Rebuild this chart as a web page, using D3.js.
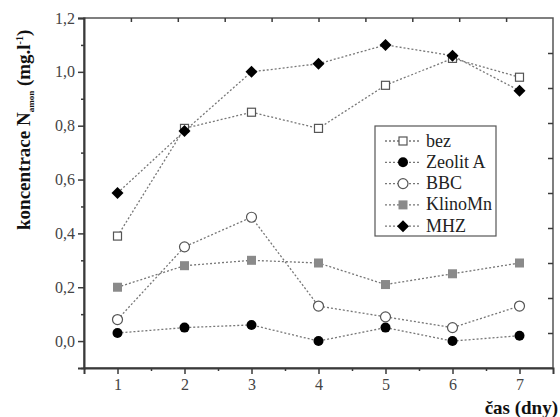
<!DOCTYPE html>
<html>
<head>
<meta charset="utf-8">
<script src="https://cdn.jsdelivr.net/npm/d3@7"></script>
<style>
    body { margin: 0; background: #fff; }
    svg text { font-family: "Liberation Serif", "Times New Roman", Times, "Noto Serif", "DejaVu Serif", serif; }
</style>
</head>
<body>
<div id="chart"></div>
<script>
// days on x axis
var days = [1, 2, 3, 4, 5, 6, 7];
var xTicks = [1, 2, 3, 4, 5, 6, 7];
var yTicks = [0, 0.2, 0.4, 0.6, 0.8, 1.0, 1.2];

// concentration N amon (mg/l) per series
var bez = [0.39, 0.79, 0.85, 0.79, 0.95, 1.05, 0.98];
var zeolitA = [0.03, 0.05, 0.06, 0.00, 0.05, 0.00, 0.02];
var bbc = [0.08, 0.35, 0.46, 0.13, 0.09, 0.05, 0.13];
var klinoMn = [0.20, 0.28, 0.30, 0.29, 0.21, 0.25, 0.29];
var mhz = [0.55, 0.78, 1.00, 1.03, 1.10, 1.06, 0.93];

var seriesNames = ["bez", "Zeolit A", "BBC", "KlinoMn", "MHZ"];
var seriesValues = [bez, zeolitA, bbc, klinoMn, mhz];

var width = 560, height = 417;
var plotLeft = 84, plotRight = 553, plotTop = 18, plotBottom = 368;
var serif = "'Liberation Serif', 'Times New Roman', Times, 'Noto Serif', 'DejaVu Serif', serif";

var svg = d3.select("#chart").append("svg")
    .attr("width", width)
    .attr("height", height);

var x = d3.scaleLinear().domain([0.5, 7.5]).range([plotLeft, plotRight]);
var y = d3.scaleLinear().domain([-0.1, 1.2]).range([plotBottom, plotTop]);
// top and right mirror axes just split the frame in 10 parts
var xTop = d3.scaleLinear().domain([0, 10]).range([plotLeft, plotRight]);
var yRight = d3.scaleLinear().domain([0, 10]).range([plotBottom, plotTop]);

var frameColor = "#3a3a3a";
var labelColor = "#444";

// frame
svg.append("rect")
    .attr("x", plotLeft).attr("y", plotTop)
    .attr("width", plotRight - plotLeft).attr("height", plotBottom - plotTop)
    .attr("fill", "none")
    .attr("stroke", "#555")
    .attr("stroke-width", 1.5);

// left axis
var yAxis = svg.append("g")
    .attr("transform", "translate(" + plotLeft + ",0)")
    .call(d3.axisLeft(y).tickValues(yTicks).tickSize(6).tickPadding(3)
        .tickFormat(function (d) { return d3.format(".1f")(d).replace(".", ","); }));
yAxis.attr("font-family", serif);
yAxis.select(".domain").attr("stroke", frameColor).attr("stroke-width", 2);
yAxis.selectAll(".tick line").attr("stroke", frameColor).attr("stroke-width", 1.5);
yAxis.selectAll("text").attr("fill", labelColor).style("font-size", "16px");

var yMinor = svg.append("g")
    .attr("transform", "translate(" + plotLeft + ",0)")
    .call(d3.axisLeft(y).tickValues(d3.range(-0.1, 1.2, 0.2)).tickSize(3).tickFormat(""));
yMinor.select(".domain").remove();
yMinor.selectAll(".tick line").attr("stroke", frameColor).attr("stroke-width", 1.5);

// bottom axis
var xAxis = svg.append("g")
    .attr("transform", "translate(0," + plotBottom + ")")
    .call(d3.axisBottom(x).tickValues(xTicks).tickSize(6).tickPadding(5)
        .tickFormat(d3.format("d")));
xAxis.attr("font-family", serif);
xAxis.select(".domain").attr("stroke", frameColor).attr("stroke-width", 2);
xAxis.selectAll(".tick line").attr("stroke", frameColor).attr("stroke-width", 1.5);
xAxis.selectAll("text").attr("fill", labelColor).style("font-size", "16px");

var xMinor = svg.append("g")
    .attr("transform", "translate(0," + plotBottom + ")")
    .call(d3.axisBottom(x).tickValues([1.5, 2.5, 3.5, 4.5, 5.5, 6.5]).tickSize(3).tickFormat(""));
xMinor.select(".domain").remove();
xMinor.selectAll(".tick line").attr("stroke", frameColor).attr("stroke-width", 1.5);

// top and right ticks (inward)
var topAxis = svg.append("g")
    .attr("transform", "translate(0," + plotTop + ")")
    .call(d3.axisBottom(xTop).tickValues(d3.range(1, 10)).tickSize(4).tickFormat(""));
topAxis.select(".domain").remove();
topAxis.selectAll(".tick line").attr("stroke", frameColor).attr("stroke-width", 1.5);

var rightAxis = svg.append("g")
    .attr("transform", "translate(" + plotRight + ",0)")
    .call(d3.axisLeft(yRight).tickValues(d3.range(1, 10)).tickSize(5).tickFormat(""));
rightAxis.select(".domain").remove();
rightAxis.selectAll(".tick line").attr("stroke", frameColor).attr("stroke-width", 1.5);

// marker drawing per series
function drawMarker(g, i, cx, cy) {
    if (i === 0) {
        g.append("rect").attr("x", cx - 4).attr("y", cy - 4).attr("width", 8).attr("height", 8)
            .attr("fill", "#fff").attr("stroke", "#555").attr("stroke-width", 1.2);
    } else if (i === 1) {
        g.append("circle").attr("cx", cx).attr("cy", cy).attr("r", 5).attr("fill", "#000");
    } else if (i === 2) {
        g.append("circle").attr("cx", cx).attr("cy", cy).attr("r", 5)
            .attr("fill", "#fff").attr("stroke", "#555").attr("stroke-width", 1.2);
    } else if (i === 3) {
        g.append("rect").attr("x", cx - 4.5).attr("y", cy - 4.5).attr("width", 9).attr("height", 9)
            .attr("fill", "#8a8a8a");
    } else {
        g.append("path").attr("d", "M" + cx + "," + (cy - 6) + "L" + (cx + 6) + "," + cy +
            "L" + cx + "," + (cy + 6) + "L" + (cx - 6) + "," + cy + "Z").attr("fill", "#000");
    }
}

var line = d3.line()
    .x(function (d, j) { return x(days[j]); })
    .y(function (d) { return y(d); });

var plot = svg.append("g");
seriesValues.forEach(function (vals, i) {
    plot.append("path")
        .attr("d", line(vals))
        .attr("fill", "none")
        .attr("stroke", "#777")
        .attr("stroke-width", 1.3)
        .attr("stroke-dasharray", "2,2");
});
seriesValues.forEach(function (vals, i) {
    var g = plot.append("g");
    vals.forEach(function (v, j) { drawMarker(g, i, x(days[j]), y(v)); });
});

// legend
var lg = svg.append("g");
lg.append("rect")
    .attr("x", 375).attr("y", 126).attr("width", 121).attr("height", 110)
    .attr("fill", "#fff").attr("stroke", "#555").attr("stroke-width", 1.2);
seriesNames.forEach(function (name, i) {
    var ly = 141 + i * 21.3;
    lg.append("line")
        .attr("x1", 385).attr("x2", 421).attr("y1", ly).attr("y2", ly)
        .attr("stroke", "#777").attr("stroke-width", 1.3).attr("stroke-dasharray", "2,2");
    drawMarker(lg, i, 403, ly);
    lg.append("text")
        .attr("x", 426).attr("y", ly + 5.5)
        .attr("fill", "#222")
        .attr("font-family", serif)
        .style("font-size", "18px")
        .text(name);
});

// axis titles
var yt = svg.append("text")
    .attr("transform", "translate(30,230) rotate(-90)")
    .attr("fill", "#111")
    .attr("font-family", serif)
    .style("font-size", "19px")
    .style("font-weight", "bold");
yt.append("tspan").text("koncentrace N");
yt.append("tspan").attr("dy", 4).style("font-size", "9px").text("amon");
yt.append("tspan").attr("dy", -4).text(" (mg.l");
yt.append("tspan").attr("dy", -7).style("font-size", "10px").text("-1");
yt.append("tspan").attr("dy", 7).text(")");

svg.append("text")
    .attr("x", 558).attr("y", 414)
    .attr("text-anchor", "end")
    .attr("fill", "#111")
    .attr("font-family", serif)
    .style("font-size", "19px")
    .style("font-weight", "bold")
    .text("čas (dny)");
</script>
</body>
</html>
